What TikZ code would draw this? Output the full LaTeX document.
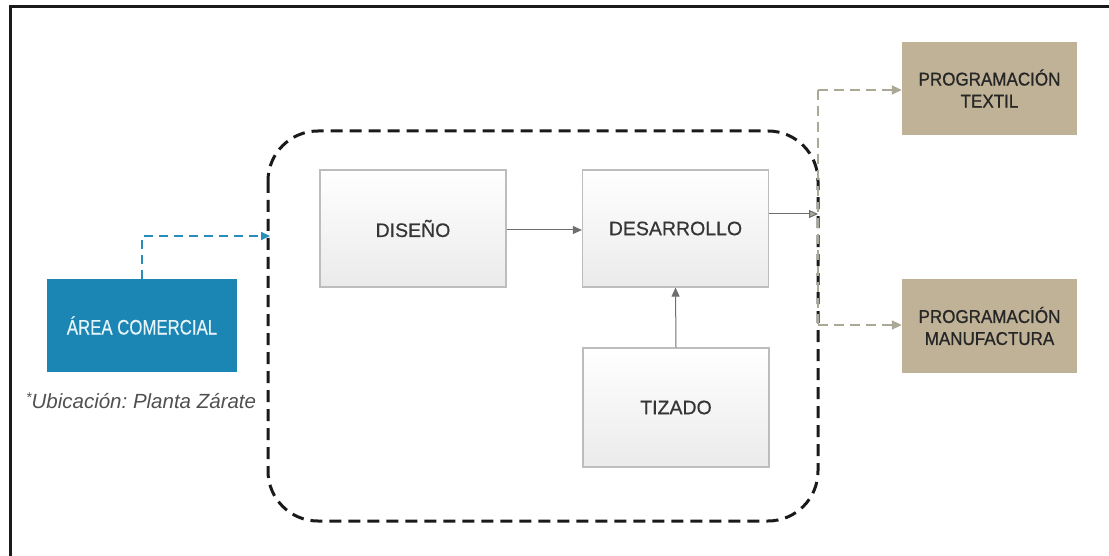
\documentclass[tikz,border=0pt]{standalone}
\usepackage{fontspec}
\setmainfont{Liberation Sans}
\newfontfamily\boxfont[FakeBold=0.5]{Liberation Sans}
\newfontfamily\condfont[FakeStretch=0.8,FakeBold=0.4]{Liberation Sans}
\newfontfamily\progfont[FakeStretch=0.92,FakeBold=0.8]{Liberation Sans}
\usetikzlibrary{arrows.meta}
\frenchspacing
\definecolor{boxborder}{HTML}{BDBDBD}
\definecolor{boxtext}{HTML}{353535}
\definecolor{comblue}{HTML}{1B86B4}
\definecolor{combluetext}{HTML}{E6F3F8}
\definecolor{tanfill}{HTML}{BFB297}
\definecolor{tantext}{HTML}{262626}
\definecolor{linkgray}{HTML}{6E6E6E}
\definecolor{tanline}{HTML}{ABA896}
\definecolor{blueline}{HTML}{2A8CB8}
\definecolor{frameblack}{HTML}{1A1A1A}
\definecolor{notegray}{HTML}{505050}
\tikzset{
  graybox/.style={draw=boxborder, line width=1.2pt, top color=white, bottom color=black!8,
    minimum width=186pt, minimum height=117pt, inner sep=0pt, text=boxtext,
    font=\boxfont\fontsize{19.5}{22}\selectfont},
  tanbox/.style={fill=tanfill, minimum width=175pt, minimum height=93pt, inner sep=0pt,
    text=tantext, align=center, font=\progfont\fontsize{18.5}{22}\selectfont},
  grayarrow/.style={draw=linkgray, line width=1pt, -{Triangle[length=9pt,width=8pt]}},
  tanarrow/.style={draw=tanline, line width=1.8pt, dash pattern=on 10pt off 6pt,
    -{Triangle[length=10pt,width=9pt]}},
  bluearrow/.style={draw=blueline, line width=2pt, dash pattern=on 9pt off 6pt,
    -{Triangle[length=9pt,width=8pt]}},
}
\begin{document}
\begin{tikzpicture}[x=1pt,y=-1pt]
\useasboundingbox (0,0) rectangle (1109,556);
% frame (top and left edges visible)
\draw[frameblack, line width=3pt] (10,556) -- (10,7) -- (1109,7);
% dashed group
\draw[frameblack, line width=3pt, dash pattern=on 12pt off 7pt, rounded corners=50pt]
  (268,131) rectangle (818,521);
% boxes
\node[graybox] (diseno) at (413,228.5) {DISEÑO};
\node[graybox] (desarrollo) at (675.5,228.5) {DESARROLLO};
\node[graybox, minimum height=119pt] (tizado) at (676,407.5) {TIZADO};
\node[fill=comblue, minimum width=190pt, minimum height=93pt, inner sep=0pt,
  text=combluetext, font=\condfont\fontsize{21}{24}\selectfont] (comercial) at (142,325.5) {ÁREA COMERCIAL};
\node[text=notegray, font=\itshape\fontsize{20.5}{24}\selectfont, anchor=west, inner sep=0pt]
  (nota) at (26,401) {\raisebox{0.3em}{\fontsize{14}{15}\selectfont *}Ubicación: Planta Zárate};
\node[tanbox] (textil) at (989.5,88.5) {PROGRAMACIÓN\\TEXTIL};
\node[tanbox] (manuf) at (989.5,326) {PROGRAMACIÓN\\MANUFACTURA};
% connectors
\coordinate (split) at (818,214);
\coordinate (splittop) at (818,90);
\coordinate (splitbot) at (818,325);
\coordinate (bluecorner) at (142,236);
\coordinate (groupin) at (270,236);
\draw[grayarrow] (diseno.east |- 0,230) -- (desarrollo.west |- 0,230);
\draw[grayarrow] (tizado.north) -- (desarrollo.south);
\draw[draw=linkgray, line width=1pt, -{Triangle[length=9pt,width=8pt,fill=tanline]}] (desarrollo.east |- split) -- (split);
\draw[draw=tanline, line width=1.8pt, dash pattern=on 10pt off 6pt] (splittop) -- (splitbot);
\draw[tanarrow] (splittop) -- (textil.west |- splittop);
\draw[tanarrow] (splitbot) -- (manuf.west |- splitbot);
\draw[bluearrow] (comercial.north) -- (bluecorner) -- (groupin);
\end{tikzpicture}
\end{document}
